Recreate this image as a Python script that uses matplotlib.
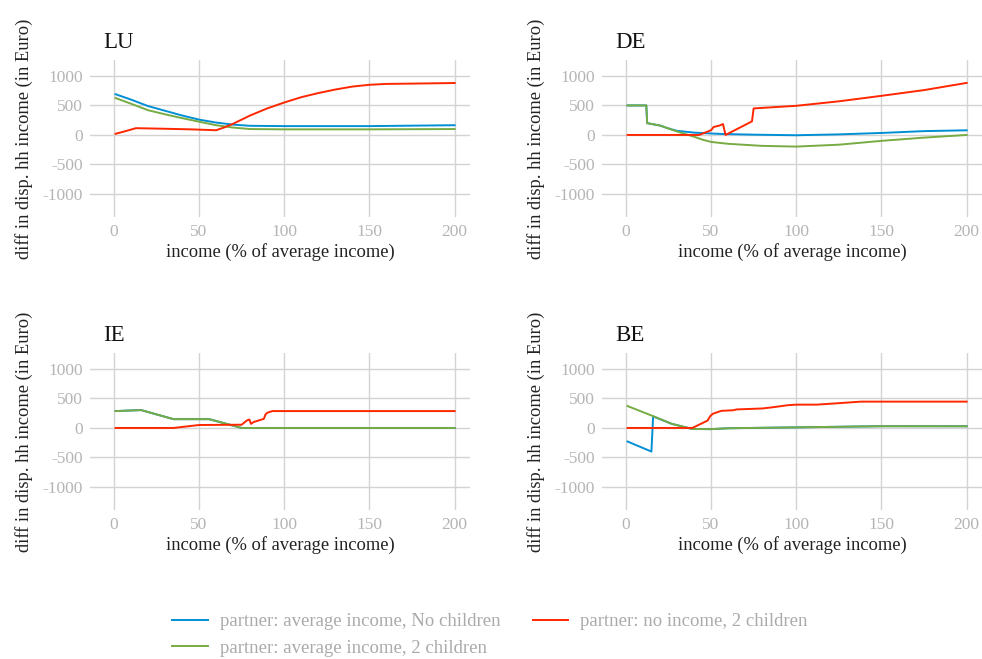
import numpy as np
import matplotlib.pyplot as plt

plt.rcParams['font.family'] = ['Liberation Serif', 'DejaVu Serif']
plt.rcParams['axes.unicode_minus'] = False

# series labels and colours
labels = ['partner: average income, No children',
          'partner: average income, 2 children',
          'partner: no income, 2 children']
colors = ['#008fd5', '#77ab43', '#ff2700']

# LU
lu_blue_x = [1, 10, 20, 30, 40, 50, 60, 70, 80, 100, 150, 200]
lu_blue_y = [690, 600, 490, 410, 330, 260, 210, 175, 155, 150, 150, 165]
lu_green_x = [1, 10, 20, 30, 40, 50, 60, 70, 80, 100, 150, 200]
lu_green_y = [625, 530, 420, 350, 285, 225, 165, 125, 100, 95, 95, 100]
lu_red_x = [1, 5, 13, 30, 45, 60, 65, 70, 80, 90, 100, 110, 120, 130, 140, 150, 160, 175, 200]
lu_red_y = [20, 50, 115, 105, 95, 80, 130, 190, 330, 450, 550, 640, 710, 770, 820, 850, 865, 870, 880]

# DE
de_blue_x = [1, 12, 12.5, 20, 25, 30, 40, 50, 56, 75, 100, 125, 150, 175, 200]
de_blue_y = [500, 500, 200, 160, 110, 70, 40, 25, 17, 5, -5, 10, 34, 65, 79]
de_green_x = [1, 12, 12.5, 20, 25, 30, 40, 45, 50, 60, 80, 100, 125, 150, 175, 200]
de_green_y = [500, 500, 200, 160, 110, 60, -30, -80, -118, -150, -185, -197, -165, -100, -45, 0]
de_red_x = [1, 43, 50, 51.5, 55, 57, 58.5, 74, 75, 100, 125, 150, 175, 200]
de_red_y = [0, 0, 80, 135, 160, 185, 0, 230, 450, 494, 570, 663, 760, 882]

# IE
ie_blue_x = [1, 16, 35, 56, 75, 200]
ie_blue_y = [286, 303, 149, 149, 0, 0]
ie_green_x = [1, 16, 35, 56, 75, 200]
ie_green_y = [286, 303, 149, 149, 0, 0]
ie_red_x = [1, 35, 50, 75, 78, 79.5, 80.5, 82, 88, 89, 90, 93, 200]
ie_red_y = [0, 0, 50, 55, 126, 143, 69, 100, 154, 229, 257, 286, 286]

# BE
be_blue_x = [1, 15, 16, 27, 39, 50, 60, 100, 150, 200]
be_blue_y = [-230, -400, 195, 69, -17, -20, -5, 10, 30, 29]
be_green_x = [1, 16, 27, 39, 50, 60, 100, 150, 200]
be_green_y = [371, 200, 69, -17, -20, -5, 10, 30, 29]
be_red_x = [1, 39, 48, 49.5, 51, 56, 63, 65, 80, 86, 95, 100, 112, 125, 138, 200]
be_red_y = [0, 0, 126, 200, 240, 290, 300, 314, 330, 350, 385, 395, 395, 420, 446, 446]

panels = [
    ('LU', [(lu_blue_x, lu_blue_y), (lu_green_x, lu_green_y), (lu_red_x, lu_red_y)]),
    ('DE', [(de_blue_x, de_blue_y), (de_green_x, de_green_y), (de_red_x, de_red_y)]),
    ('IE', [(ie_blue_x, ie_blue_y), (ie_green_x, ie_green_y), (ie_red_x, ie_red_y)]),
    ('BE', [(be_blue_x, be_blue_y), (be_green_x, be_green_y), (be_red_x, be_red_y)]),
]

x_ticks = [0, 50, 100, 150, 200]
y_ticks = [-1000, -500, 0, 500, 1000]

W, H = 982, 659
fig = plt.figure(figsize=(W / 100, H / 100), dpi=100)

# axes boxes in pixels: left, top, right, bottom
boxes = [(90, 60, 470, 217), (602, 60, 982, 217),
         (90, 353, 470, 510), (602, 353, 982, 510)]

handles = []
for (name, series), (l, t, r, b) in zip(panels, boxes):
    ax = fig.add_axes([l / W, 1 - b / H, (r - l) / W, (b - t) / H])
    for (xs, ys), c in zip(series, colors):
        ln, = ax.plot(xs, ys, color=c, lw=1.4)
        if len(handles) < 3:
            handles.append(ln)
    ax.set_xlim(-14, 209)
    ax.set_ylim(-1390, 1270)
    ax.set_xticks(x_ticks)
    ax.set_yticks(y_ticks)
    ax.grid(True, color='#d3d3d3', lw=1.0)
    ax.set_axisbelow(True)
    for s in ax.spines.values():
        s.set_visible(False)
    ax.tick_params(length=0, labelsize=12.5, labelcolor='#b5b5b5', pad=5)
    ax.set_xlabel('income (% of average income)', fontsize=13.3, color='#222222', labelpad=2)
    ax.set_ylabel('diff in disp. hh income (in Euro)', fontsize=13.3, color='#222222', labelpad=7)
    ax.text(13 / 380, 1.11, name, transform=ax.transAxes, fontsize=16.5,
            ha='left', va='center', color='#111111')

fig.legend([handles[0], handles[1], handles[2]], labels, ncol=2,
           loc='center', bbox_to_anchor=(0.499, 1 - 635 / H), frameon=False,
           fontsize=13.5, labelcolor='#aaaaaa', handlelength=1.9, handletextpad=0.65,
           columnspacing=1.7, labelspacing=0.5)

fig.savefig('out.png', dpi=100, facecolor='white')
